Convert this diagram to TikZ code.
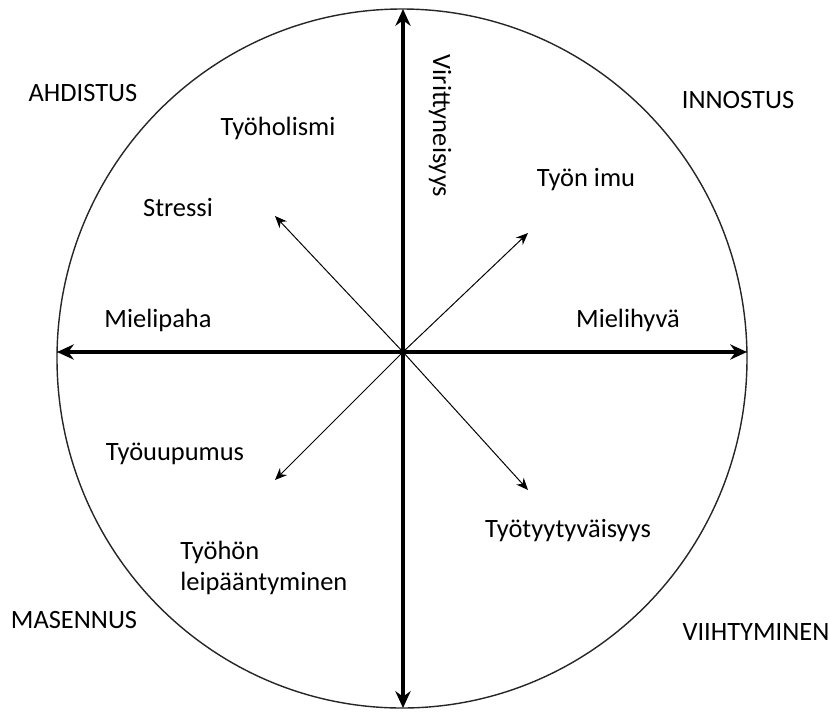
\documentclass[tikz,border=0pt]{standalone}
\usepackage{fontspec}
\setmainfont{Carlito}
\usetikzlibrary{arrows.meta, positioning}
\tikzset{
    lbl/.style={inner sep=0pt, font=\fontsize{18.8}{22}\selectfont},
    axis/.style={line width=3pt, {Stealth[length=4.2mm, width=3.8mm]}-{Stealth[length=4.2mm, width=3.8mm]}},
    dir/.style={line width=0.7pt, -{Stealth[length=3mm, width=2.5mm]}},
}

\begin{document}
\begin{tikzpicture}[x=0.025cm, y=-0.025cm]
\useasboundingbox (0,0) rectangle (829,713);

% === Ympyrä ===
\draw[line width=1pt, black!85] (402,358.5) ellipse (345 and 349.5);

% === Akselit ===
\coordinate (o) at (403,352);
\coordinate (top) at (403,9);
\coordinate (bot) at (403,708);
\coordinate (lft) at (57,352);
\coordinate (rgt) at (747,352);
\draw[axis] (top) -- (bot);
\draw[axis] (lft) -- (rgt);

% Vinot nuolet
\coordinate (ul) at (275,216);
\coordinate (ur) at (528,233);
\coordinate (dl) at (275,480);
\coordinate (dr) at (528,490);
\draw[dir] (o) -- (ul);
\draw[dir] (o) -- (ur);
\draw[dir] (o) -- (dl);
\draw[dir] (o) -- (dr);

% === Nimet ===
\node[lbl, rotate=-90] (vir) at (440,126) {Virittyneisyys};
\node[lbl] (ahd) at (83,93) {AHDISTUS};
\node[lbl] (inn) at (738,100) {INNOSTUS};
\node[lbl] (mas) at (74,620) {MASENNUS};
\node[lbl] (vii) at (756,632) {VIIHTYMINEN};

\node[lbl] (hol) at (278,128) {Työholismi};
\node[lbl] (str) at (178,207) {Stressi};
\node[lbl] (imu) at (586,180) {Työn imu};
\node[lbl] (pah) at (158,320) {Mielipaha};
\node[lbl] (hyv) at (628,320) {Mielihyvä};
\node[lbl] (uup) at (175,454) {Työuupumus};
\node[lbl, align=left, anchor=west] (lei) at (180,568) {Työhön\\leipääntyminen};
\node[lbl] (tyy) at (568,531) {Työtyytyväisyys};

\end{tikzpicture}
\end{document}
